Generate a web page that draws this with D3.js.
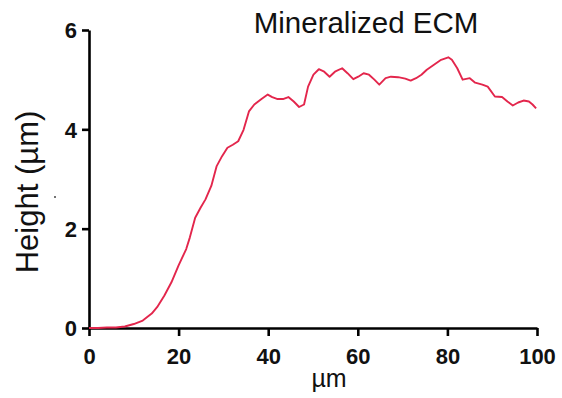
<!DOCTYPE html>
<html>
<head>
<meta charset="utf-8">
<script src="https://cdn.jsdelivr.net/npm/d3@7"></script>
<style>
  html, body { margin: 0; padding: 0; background: #fff; }
  svg { display: block; }
  text { font-family: "Liberation Sans", Arial, sans-serif; }
</style>
</head>
<body>
<svg id="chart" width="562" height="398"></svg>
<script>
// Surface profile: lateral position (µm) and measured height (µm)
const positions = [0, 2, 4, 6, 8, 10, 12, 14, 15.2, 16.8, 18.4, 20, 21.7, 22.5, 23.7, 24.9, 26, 27.3, 28.5, 29.7,
  30.9, 32.1, 33.3, 34.5, 35.7, 36.9, 38.5, 39.9, 40.9, 42.1, 43.3, 44.5, 45.7, 46.9, 48, 48.9, 50.1, 51.3,
  52.5, 53.7, 54.9, 56.5, 57.7, 59, 60.1, 61.3, 62.5, 63.7, 64.8, 66.2, 67.4, 69, 70.6, 71.8, 73, 74.2,
  75.4, 77, 78.6, 80.2, 81, 82.2, 83.4, 85, 86.2, 87.8, 89, 90.6, 92.2, 93.4, 94.6, 95.8, 97, 98.2, 99, 99.8];
const heights = [0.0, 0.0, 0.01, 0.01, 0.03, 0.08, 0.15, 0.29, 0.42, 0.65, 0.92, 1.26, 1.59, 1.82, 2.22, 2.42, 2.59, 2.86, 3.26, 3.46,
  3.63, 3.69, 3.76, 3.99, 4.36, 4.50, 4.61, 4.70, 4.65, 4.61, 4.61, 4.65, 4.56, 4.45, 4.50, 4.86, 5.10, 5.21,
  5.16, 5.06, 5.16, 5.23, 5.13, 5.01, 5.06, 5.13, 5.10, 5.00, 4.90, 5.03, 5.06, 5.05, 5.02, 4.98, 5.03, 5.10,
  5.20, 5.30, 5.40, 5.45, 5.40, 5.23, 5.00, 5.03, 4.94, 4.90, 4.86, 4.66, 4.65, 4.56, 4.48, 4.54, 4.58, 4.56, 4.50, 4.42];
const xTicks = [0, 20, 40, 60, 80, 100];
const yTicks = [0, 2, 4, 6];

const svg = d3.select("#chart");
const margin = { left: 89, right: 25, top: 30, bottom: 70 };
const W = 562, H = 398;

const x = d3.scaleLinear().domain([0, 100]).range([margin.left, W - margin.right]);
const y = d3.scaleLinear().domain([0, 6]).range([H - margin.bottom, margin.top]);

const tickFont = "22px";
const xAxis = svg.append("g")
  .attr("transform", `translate(0,${y(0)})`)
  .call(d3.axisBottom(x).tickValues(xTicks).tickFormat(d3.format("d"))
    .tickSize(8).tickPadding(12).tickSizeOuter(0));
const yAxis = svg.append("g")
  .attr("transform", `translate(${x(0)},0)`)
  .call(d3.axisLeft(y).tickValues(yTicks).tickFormat(d3.format("d"))
    .tickSize(7).tickPadding(5).tickSizeOuter(0));

[xAxis, yAxis].forEach(g => {
  g.attr("font-size", null).attr("font-family", null);
  g.select(".domain").attr("stroke", "#000").attr("stroke-width", 2.6);
  g.selectAll(".tick line").attr("stroke", "#000").attr("stroke-width", 2.6);
  g.selectAll(".tick text")
    .attr("fill", "#111")
    .style("font-family", "'Liberation Sans', Arial, sans-serif")
    .style("font-size", tickFont)
    .style("font-weight", "bold");
});
yAxis.selectAll(".tick text").attr("dy", "0.36em");

// Profile line
const line = d3.line().x((d, i) => x(positions[i])).y(d => y(d)).curve(d3.curveLinear);
svg.append("path")
  .datum(heights)
  .attr("fill", "none")
  .attr("stroke", "#e3264c")
  .attr("stroke-width", 1.9)
  .attr("stroke-linejoin", "round")
  .attr("d", line);

// Title and axis labels
svg.append("text")
  .attr("x", 366).attr("y", 33)
  .attr("text-anchor", "middle")
  .style("font-size", "29.5px")
  .attr("fill", "#111")
  .text("Mineralized ECM");

svg.append("text")
  .attr("x", 329).attr("y", 387)
  .attr("text-anchor", "middle")
  .style("font-size", "25px")
  .attr("fill", "#111")
  .text("µm");

svg.append("text")
  .attr("transform", `translate(38,${192}) rotate(-90)`)
  .attr("text-anchor", "middle")
  .style("font-size", "31px")
  .attr("fill", "#111")
  .text("Height (µm)");

svg.append("circle").attr("cx", 55).attr("cy", 197).attr("r", 1).attr("fill", "#444");
</script>
</body>
</html>
